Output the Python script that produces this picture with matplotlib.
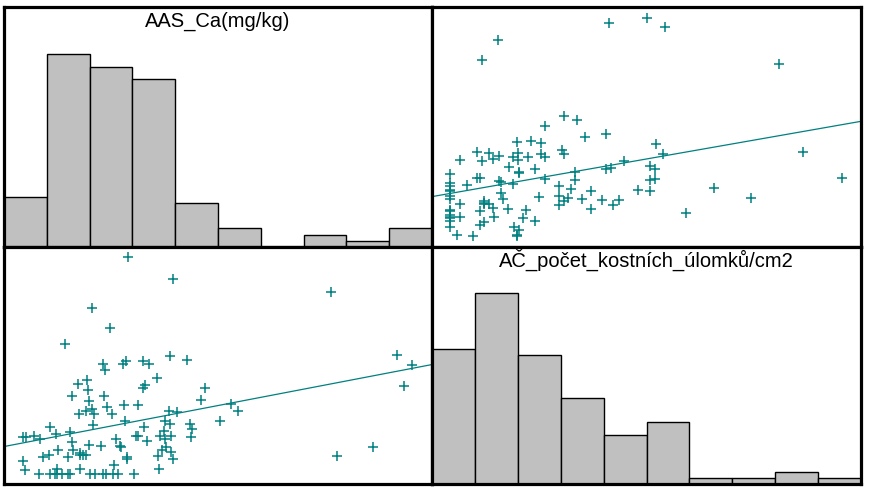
import matplotlib.pyplot as plt
import numpy as np

plt.rcParams['font.family'] = ['Liberation Sans', 'DejaVu Sans']

# histogram counts (10 bins each)
ca_counts = [8, 31, 29, 27, 7, 3, 0, 2, 1, 3]
ac_counts = [22, 31, 21, 14, 8, 10, 1, 1, 2, 1]

# pairs: AAS_Ca and AČ (scale 0-10, same as histogram range)
ca = [2.89, 3.96, 7.63, 2.06, 2.47, 1.43, 2.32, 2.36, 2.78, 2.85,
      3.25, 3.38, 3.87, 4.28, 9.18, 9.54, 9.35, 3.57, 1.95, 1.74,
      1.96, 3.25, 3.30, 4.69, 1.58, 2.34, 1.98, 4.60, 2.80, 3.14,
      5.30, 5.46, 2.06, 1.92, 2.11, 1.75, 2.40, 2.53, 3.86, 4.04,
      5.04, 2.83, 3.76, 3.88, 2.09, 1.07, 3.27, 4.35, 4.40, 3.73,
      1.54, 1.21, 0.45, 0.51, 0.70, 0.84, 3.08, 3.14, 3.64, 3.76,
      3.91, 4.36, 2.62, 3.34, 1.60, 1.99, 2.27, 2.70, 2.74, 3.79,
      3.68, 1.27, 1.62, 1.78, 1.85, 1.78, 1.92, 1.50, 1.04, 0.90,
      2.88, 2.87, 3.60, 3.91, 3.96, 8.63, 7.79, 0.45, 0.49, 2.58,
      1.78, 3.61, 1.23, 0.82, 1.07, 1.19, 1.23, 1.35, 1.49, 1.54,
      2.02, 2.13, 2.32, 2.38, 2.54, 2.67, 3.04]
ac = [9.56, 8.64, 8.10, 7.43, 6.58, 5.91, 5.08, 4.80, 5.08, 5.19,
      5.19, 5.08, 5.39, 5.22, 5.43, 5.01, 4.12, 4.47, 4.37, 4.23,
      3.97, 4.06, 4.18, 4.05, 3.70, 3.70, 3.50, 3.56, 3.33, 3.33,
      3.39, 3.07, 3.18, 3.07, 2.95, 2.95, 3.23, 2.95, 3.07, 3.02,
      2.64, 2.64, 2.64, 2.53, 2.49, 2.39, 2.39, 2.53, 2.31, 2.24,
      2.18, 2.12, 1.97, 1.97, 2.03, 1.90, 2.03, 2.03, 2.01, 1.88,
      2.01, 1.97, 1.88, 1.80, 1.76, 1.66, 1.60, 1.60, 1.56, 1.56,
      1.43, 1.45, 1.42, 1.32, 1.22, 1.21, 1.22, 1.13, 1.22, 1.13,
      1.13, 1.04, 1.17, 1.34, 1.05, 1.55, 1.17, 0.96, 0.59, 0.82,
      0.65, 0.65, 0.65, 0.42, 0.42, 0.42, 0.42, 0.42, 0.42, 0.42,
      0.42, 0.42, 0.42, 0.42, 0.42, 0.42, 0.42]

titles = ["AAS_Ca(mg/kg)", "AČ_počet_kostních_úlomků/cm2"]

ca = np.array(ca)
ac = np.array(ac)
edges = np.arange(0, 11)
teal = "#008080"

W, H = 869, 491
fig = plt.figure(figsize=(W / 100, H / 100), dpi=100)

def box(l, t, r, b):
    return fig.add_axes([l / W, (H - b) / H, (r - l) / W, (b - t) / H])

ax_tl = box(4, 7, 432, 247)
ax_tr = box(432, 7, 861, 247)
ax_bl = box(4, 247, 432, 484)
ax_br = box(432, 247, 861, 484)

def hist(ax, counts, title, top):
    ax.bar(edges[:-1], counts, width=1, align="edge", color="#c0c0c0",
           edgecolor="black", linewidth=1)
    ax.set_xlim(0, 10)
    ax.set_ylim(0, top)
    ax.text(0.5, 1 - 20 / 240, title, transform=ax.transAxes, ha="center",
            va="baseline", fontsize=14.5)

def scat(ax, x, y):
    ax.plot(x, y, "+", color=teal, ms=6.5, mew=1.1)
    k = np.polyfit(x, y, 1)
    xs = np.array([0, 10])
    ax.plot(xs, np.polyval(k, xs), color=teal, lw=0.9)
    ax.set_xlim(0, 10)
    ax.set_ylim(0, 10)

hist(ax_tl, ca_counts, titles[0], 38.6)
hist(ax_br, ac_counts, titles[1], 38.5)
scat(ax_tr, ac, ca)
scat(ax_bl, ca, ac)

for ax in [ax_tl, ax_tr, ax_bl, ax_br]:
    ax.set_xticks([])
    ax.set_yticks([])
    for s in ax.spines.values():
        s.set_linewidth(2.3)
        s.set_zorder(5)

fig.savefig("out.png", dpi=100)
